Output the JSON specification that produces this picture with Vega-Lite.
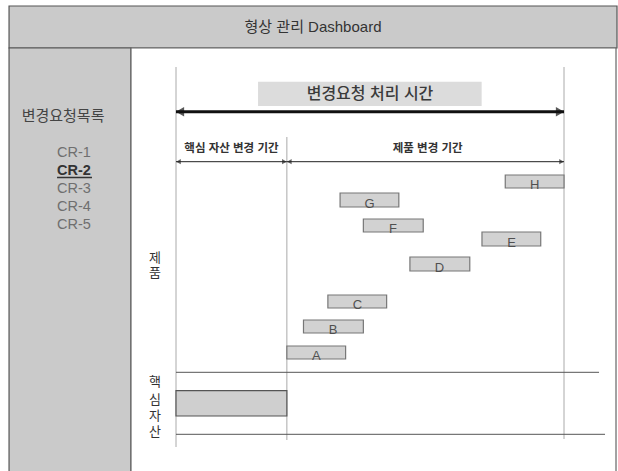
{
  "$schema": "https://vega.github.io/schema/vega-lite/v6.json",
  "width": 618,
  "height": 471,
  "padding": 0,
  "autosize": {"type": "none"},
  "background": "white",
  "config": {"view": {"stroke": null}, "text": {"font": "Liberation Sans, Noto Sans CJK KR"}},
  "encoding": {
    "x": {"field": "t", "type": "quantitative", "scale": {"domain": [-15.876, 39.87], "nice": false, "zero": false}, "axis": null},
    "y": {"field": "L", "type": "quantitative", "scale": {"domain": [0, 47.1], "nice": false, "zero": false}, "axis": null}
  },
  "layer": [
    {
      "data": {"values": [
        {"part": "header", "t": -15.06, "t2": 39.78, "L": 46.5, "L2": 42.3},
        {"part": "sidebar", "t": -15.06, "t2": -4.06, "L": 42.3, "L2": -1}
      ]},
      "mark": {"type": "rect", "fill": "#cacaca", "stroke": "#555555", "strokeWidth": 1.2},
      "encoding": {"x2": {"field": "t2"}, "y2": {"field": "L2"}}
    },
    {
      "data": {"values": [{"part": "main", "t": -4.06, "t2": 39.69, "L": 42.3, "L2": -1}]},
      "mark": {"type": "rect", "fill": "white", "stroke": "#666666", "strokeWidth": 1.2},
      "encoding": {"x2": {"field": "t2"}, "y2": {"field": "L2"}}
    },
    {
      "data": {"values": [
        {"t": 0, "L": 40.4, "L2": 2.4},
        {"t": 10, "L": 33.4, "L2": 3.1},
        {"t": 35, "L": 40.4, "L2": 3.2}
      ]},
      "mark": {"type": "rule", "color": "#aaaaaa", "strokeWidth": 1},
      "encoding": {"y2": {"field": "L2"}}
    },
    {
      "data": {"values": [
        {"t": 0, "t2": 38.16, "L": 9.87},
        {"t": 0, "t2": 38.7, "L": 3.67}
      ]},
      "mark": {"type": "rule", "color": "#555555", "strokeWidth": 1},
      "encoding": {"x2": {"field": "t2"}}
    },
    {
      "data": {"values": [{"t": 7.4, "t2": 27.57, "L": 38.93, "L2": 36.5}]},
      "mark": {"type": "rect", "fill": "#dcdcdc"},
      "encoding": {"x2": {"field": "t2"}, "y2": {"field": "L2"}}
    },
    {
      "data": {"name": "arrows", "values": [
        {"span": "total", "t": 0, "t2": 35, "L": 35.93},
        {"span": "core", "t": 0, "t2": 10, "L": 30.93},
        {"span": "product", "t": 10, "t2": 35, "L": 30.93}
      ]},
      "layer": [
        {
          "transform": [{"filter": "datum.span === 'total'"}],
          "mark": {"type": "rule", "color": "#111111", "strokeWidth": 3},
          "encoding": {"x2": {"field": "t2"}}
        },
        {
          "transform": [{"filter": "datum.span !== 'total'"}],
          "mark": {"type": "rule", "color": "#222222", "strokeWidth": 1},
          "encoding": {"x2": {"field": "t2"}}
        },
        {
          "transform": [{"filter": "datum.span === 'total'"}],
          "mark": {"type": "point", "shape": "triangle-left", "filled": true, "color": "#111111", "size": 90, "xOffset": 4}
        },
        {
          "transform": [{"filter": "datum.span === 'total'"}],
          "mark": {"type": "point", "shape": "triangle-right", "filled": true, "color": "#111111", "size": 90, "xOffset": -4},
          "encoding": {"x": {"field": "t2", "type": "quantitative"}}
        },
        {
          "transform": [{"filter": "datum.span !== 'total'"}],
          "mark": {"type": "point", "shape": "triangle-left", "filled": true, "color": "#222222", "size": 28, "xOffset": 2.5}
        },
        {
          "transform": [{"filter": "datum.span !== 'total'"}],
          "mark": {"type": "point", "shape": "triangle-right", "filled": true, "color": "#222222", "size": 28, "xOffset": -2.5},
          "encoding": {"x": {"field": "t2", "type": "quantitative"}}
        }
      ]
    },
    {
      "data": {"values": [
        {"item": "A", "t": 10.0, "t2": 15.3, "L": 11.2, "L2": 12.5},
        {"item": "B", "t": 11.5, "t2": 16.9, "L": 13.8, "L2": 15.1},
        {"item": "C", "t": 13.7, "t2": 19.0, "L": 16.3, "L2": 17.6},
        {"item": "D", "t": 21.1, "t2": 26.5, "L": 20.0, "L2": 21.4},
        {"item": "E", "t": 27.6, "t2": 32.9, "L": 22.5, "L2": 23.9},
        {"item": "F", "t": 16.9, "t2": 22.3, "L": 23.9, "L2": 25.2},
        {"item": "G", "t": 14.8, "t2": 20.1, "L": 26.4, "L2": 27.8},
        {"item": "H", "t": 29.7, "t2": 35.0, "L": 28.3, "L2": 29.6}
      ]},
      "layer": [
        {
          "mark": {"type": "rect", "fill": "#d2d2d2", "stroke": "#777777", "strokeWidth": 1.2},
          "encoding": {"x2": {"field": "t2"}, "y2": {"field": "L2"}}
        },
        {
          "mark": {"type": "text", "align": "center", "baseline": "alphabetic", "dx": 29.5, "dy": 0.5, "fontSize": 13, "color": "#505050"},
          "encoding": {"text": {"field": "item"}}
        }
      ]
    },
    {
      "data": {"values": [{"part": "core asset", "t": 0, "t2": 10, "L": 5.5, "L2": 8.03}]},
      "mark": {"type": "rect", "fill": "#cfcfcf", "stroke": "#555555", "strokeWidth": 1.2},
      "encoding": {"x2": {"field": "t2"}, "y2": {"field": "L2"}}
    },
    {
      "data": {"values": [{"label": "형상 관리 Dashboard", "t": 12.36, "L": 44.45}]},
      "mark": {"type": "text", "align": "center", "baseline": "middle", "fontSize": 15, "color": "#333333"},
      "encoding": {"text": {"field": "label"}}
    },
    {
      "data": {"values": [{"label": "변경요청 처리 시간", "t": 17.5, "L": 37.7}]},
      "mark": {"type": "text", "align": "center", "baseline": "middle", "fontSize": 16, "fontWeight": 500, "color": "#3a3a3a"},
      "encoding": {"text": {"field": "label"}}
    },
    {
      "data": {"values": [
        {"label": "핵심 자산 변경 기간", "t": 5, "L": 32.2},
        {"label": "제품 변경 기간", "t": 22.7, "L": 32.2}
      ]},
      "mark": {"type": "text", "align": "center", "baseline": "middle", "fontSize": 11.5, "fontWeight": "bold", "color": "#333333"},
      "encoding": {"text": {"field": "label"}}
    },
    {
      "data": {"values": [
        {"char": "제", "t": -1.89, "L": 21.3},
        {"char": "품", "t": -1.89, "L": 19.8},
        {"char": "핵", "t": -1.89, "L": 8.9},
        {"char": "심", "t": -1.89, "L": 7.15},
        {"char": "자", "t": -1.89, "L": 5.5},
        {"char": "산", "t": -1.89, "L": 3.9}
      ]},
      "mark": {"type": "text", "align": "center", "baseline": "middle", "fontSize": 13, "color": "#333333"},
      "encoding": {"text": {"field": "char"}}
    },
    {
      "data": {"values": [{"label": "변경요청목록", "t": -10.19, "L": 35.5}]},
      "mark": {"type": "text", "align": "center", "baseline": "middle", "fontSize": 15, "color": "#444444"},
      "encoding": {"text": {"field": "label"}}
    },
    {
      "data": {"values": [
        {"cr": "CR-1", "selected": false, "t": -9.2, "L": 31.8},
        {"cr": "CR-2", "selected": true, "t": -9.2, "L": 30.0},
        {"cr": "CR-3", "selected": false, "t": -9.2, "L": 28.2},
        {"cr": "CR-4", "selected": false, "t": -9.2, "L": 26.4},
        {"cr": "CR-5", "selected": false, "t": -9.2, "L": 24.6}
      ]},
      "layer": [
        {
          "transform": [{"filter": "!datum.selected"}],
          "mark": {"type": "text", "align": "center", "baseline": "middle", "fontSize": 14.5, "color": "#6f6f6f"},
          "encoding": {"text": {"field": "cr"}}
        },
        {
          "transform": [{"filter": "datum.selected"}],
          "mark": {"type": "text", "align": "center", "baseline": "middle", "fontSize": 14.5, "fontWeight": "bold", "color": "#333333"},
          "encoding": {"text": {"field": "cr"}}
        }
      ]
    },
    {
      "data": {"values": [{"t": -10.73, "t2": -7.58, "L": 29.35}]},
      "mark": {"type": "rule", "color": "#333333", "strokeWidth": 1.3},
      "encoding": {"x2": {"field": "t2"}}
    }
  ]
}
